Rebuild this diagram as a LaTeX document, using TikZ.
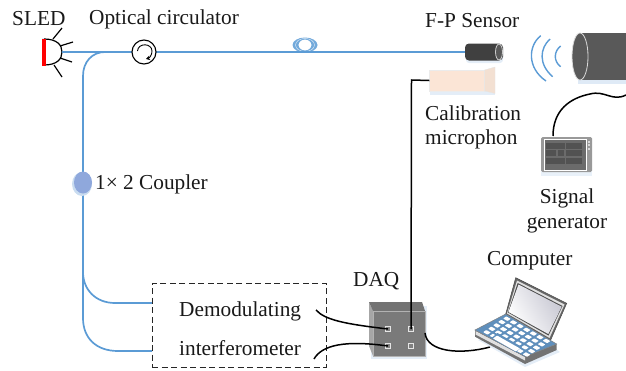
\documentclass[tikz,border=0pt]{standalone}
\usepackage{fontspec}
\setmainfont{Liberation Serif}
\usetikzlibrary{arrows.meta,shapes.geometric,calc}
\definecolor{fibre}{HTML}{5B9BD5}
\definecolor{shade}{HTML}{C9DCF0}
\definecolor{couplerblue}{HTML}{8FA8DC}
\definecolor{micbody}{HTML}{FBE5D6}
\definecolor{micflare}{HTML}{F3E0D2}
\definecolor{lapblue}{HTML}{5F8FBC}
\tikzset{
  lbl/.style={inner sep=0pt,font=\fontsize{21.3}{25}\selectfont,text=black!90,anchor=base west},
  lblc/.style={inner sep=0pt,font=\fontsize{21.3}{25}\selectfont,text=black!90,anchor=base},
  fibreline/.style={draw=fibre,line width=1.7pt},
  blackwire/.style={draw=black,line width=1.5pt},
  raydraw/.style={draw=black,line width=1.2pt},
  wave/.style={draw=fibre,line width=1.4pt},
  port/.style={draw=black!10,fill=black!50,line width=.9pt,minimum size=5pt,inner sep=0pt,rectangle},
  key/.style={fill=white,draw=none,rounded corners=.5pt},
}
\begin{document}
\begin{tikzpicture}[x=1pt,y=-1pt]
\useasboundingbox (0,0) rectangle (626,370);
% labels
\node[lbl] (tsled) at (12,25) {SLED};
\node[lbl] (tcirc) at (89,24) {Optical circulator};
\node[lbl] (tfp) at (425,27) {F-P Sensor};
\node[lbl] (tcal) at (425,120) {Calibration};
\node[lbl] (tmic) at (425,144) {microphon};
\node[lblc] (tsig) at (567,203) {Signal};
\node[lblc] (tgen) at (567,228) {generator};
\node[lbl] (tcoup) at (95,189) {1× 2 Coupler};
\node[lbl] (tdaq) at (353,286) {DAQ};
\node[lbl] (tcomp) at (487,265) {Computer};
\node[lbl] (tdem) at (179,316) {Demodulating};
\node[lbl] (tint) at (179,355) {interferometer};

% named points
\coordinate (ledout) at (62,52);
\coordinate (bend) at (105,52);
\coordinate (cbr1) at (83,272);
\coordinate (cbr2) at (83,318);
\coordinate (boxin1) at (152,303);
\coordinate (boxin2) at (152,351);
\coordinate (dem1) at (316,310);
\coordinate (dem2) at (314,359);
\coordinate (wirecorner) at (411.5,80);
\coordinate (daqout) at (425,333);
\coordinate (lapin) at (490,347);
\coordinate (sigtop) at (553,136);
\coordinate (spkwire) at (626,95);

% SLED
\path[fill=shade,opacity=.5] (42,38) rectangle (46,66);
\draw[raydraw,fill=white] (44,39) .. controls (57,39) and (62,45) .. (62,52) .. controls (62,59) and (57,65) .. (44,65);
\node[fill=red,inner sep=0pt,minimum width=4pt,minimum height=27pt] (led) at (43.5,52) {};
\draw[raydraw] (53,39) -- (62,28);
\draw[raydraw] (60,46) -- (73,42);
\draw[raydraw] (60,58) -- (72,62);
\draw[raydraw] (54,65) -- (62,77);

% fibres
\node[circle,inner sep=0pt,minimum size=24pt] (circ) at (144,52) {};
\node[inner sep=0pt,minimum width=37pt,minimum height=17pt] (sensor) at (483.5,52) {};
\draw[fibreline] (ledout) -- (circ.west);
\draw[fibreline] (circ.east) -- (sensor.west);
\draw[fibreline] (circ.west) -- (bend) .. controls (92,52) and (83,62) .. (83,76) -- (cbr2) .. controls (83,338) and (96,351) .. (118,351) -- (boxin2);
\draw[fibreline] (cbr1) .. controls (83,290) and (96,303) .. (115,303) -- (boxin1);

% circulator
\draw[black,line width=1.1pt,fill=white] (circ.center) circle[radius=12];
\draw[black,line width=.9pt,-{Stealth[length=4pt,width=4.5pt]}] (137.5,51) .. controls (138,42.5) and (152,43) .. (152,51) .. controls (152,55) and (149.5,58) .. (146,59);

% fibre coil
\path[fill=fibre,opacity=.85,even odd rule] (305,45) ellipse[x radius=12.5,y radius=7.5] (305,45) ellipse[x radius=6.5,y radius=5.5];
\draw[white,line width=.3pt] (305,45) ellipse[x radius=9.5,y radius=6.5];
\node[inner sep=0pt,minimum size=1pt] (coil) at (305,45) {};
\draw[fibreline] (290,52) -- (320,52);

% coupler
\path[fill=shade] (82,184) ellipse[x radius=10,y radius=12];
\node[ellipse,inner sep=0pt,minimum width=18pt,minimum height=22pt,fill=couplerblue] (coupler) at (83,182.5) {};

% dashed box
\node[draw=black!85,line width=.95pt,minimum width=174pt,minimum height=84pt,inner sep=0pt,
  dash pattern=on 6pt off 3.5pt] (dbox) at (239,325) {};

% DAQ
\path[fill=shade,opacity=.5] (371,306) rectangle (427,359);
\path[fill=black!35] (369,302) -- (373,311) -- (373,356) -- (369,346) -- cycle;
\path[fill=black!55] (369,302) -- (422,302) -- (425,311) -- (373,311) -- cycle;
\path[fill=black!52,draw=black!30,line width=.6pt] (373,311) rectangle (425,356);
\node[port] (p1) at (388,329) {};
\node[port] (p2) at (411,329) {};
\node[port] (p3) at (388,346) {};
\node[port] (p4) at (411,346) {};

% microphone
\path[fill=shade,opacity=.5] (430,73) rectangle (495,95);
\node[inner sep=0pt,minimum width=55pt,minimum height=21pt,fill=micbody,draw=black!8] (mic) at (457,80.5) {};
\path[fill=micflare,draw=black!10] (484.5,70) -- (495,67) -- (495,93.5) -- (484.5,91) -- cycle;
\draw[blackwire] (p2.center) -- (wirecorner) -- (mic.west);

% black cables
\draw[blackwire] (dem1) .. controls (325,320) and (345,324) .. (p1.center);
\draw[blackwire] (dem2) .. controls (322,345) and (345,340) .. (p3.center);
\draw[blackwire] (daqout) .. controls (427,352) and (460,355) .. (lapin);
\draw[blackwire] (spkwire) .. controls (612,102) and (605,90) .. (590,94) .. controls (570,98) and (553,110) .. (sigtop);

% sensor
\path[fill=shade,opacity=.5,rounded corners=3pt] (466,46) rectangle (503,63);
\path[fill=black!75,rounded corners=4pt] (465,43.5) rectangle (503,60.5);
\draw[black!20,line width=.8pt,fill=black!65] (499,52) ellipse[x radius=3.5,y radius=8];

% waves
\draw[wave] (540.7,35.7) .. controls (528,46) and (527,68) .. (546,81);
\draw[wave] (550,39) .. controls (540,48) and (538,64) .. (552.7,76.7);
\draw[wave] (560.7,46) .. controls (554,51) and (553,61) .. (560.7,66.7);

% speaker
\path[fill=shade,opacity=.6] (578,38) rectangle (626,84);
\path[fill=black!65] (580,33) -- (626,33) -- (626,80) -- (580,80) -- cycle;
\draw[black!15,line width=.8pt,fill=black!65] (580,56.5) ellipse[x radius=8,y radius=23.5];
\node[inner sep=0pt,minimum size=1pt] (spk) at (625,57) {};

% signal generator
\path[fill=shade,opacity=.4] (541,140) rectangle (592,176);
\node[inner sep=0pt,minimum width=51pt,minimum height=35pt,fill=black!40,rounded corners=1.5pt] (siggen) at (566.5,154.5) {};
\path[fill=black!58,draw=white,line width=.9pt] (544,139) rectangle (586,170.5);
\foreach \xa/\ya/\xb/\yb in {546/143/565/149,566/143/582/149,546/150/556/156,558/150/564/156,566/150/582/156,546/158/565/164,566/158/582/164}
  \path[fill=black!68] (\xa,\ya) rectangle (\xb,\yb);
\foreach \yy in {142,145,148.5} \path[fill=black!15] (587.5,\yy-1) rectangle (590,\yy+1);

% laptop
\path[fill=shade,opacity=.5] (478,340) -- (525,367) -- (560,352) -- (530,330) -- cycle;
\path[fill=black!60,draw=black!70,line width=.5pt] (515.7,277.7) -- (566.7,303.3) -- (550.7,340) -- (505.7,314) -- cycle;
\path[fill=black!12] (517,280.5) -- (564.5,304.5) -- (549.5,338) -- (507,313.5) -- cycle;
\path[fill=black!70] (517.7,283) -- (562.5,306) -- (548.5,335.5) -- (508,312.5) -- cycle;
\shade[left color=blue!20!black!22,right color=white,shading angle=-60] (518.5,284.5) -- (561.7,306.7) -- (548.3,334) -- (508.5,312) -- cycle;
\path[fill=black!55] (475,330) -- (475,336.7) -- (525,364) -- (556.7,350) -- (556.7,344) -- (525,356.7) -- cycle;
\path[fill=black!12] (475.5,331) -- (475.5,334.5) -- (525,360.5) -- (525,357) -- cycle;
\path[fill=lapblue,draw=black!50,line width=.5pt] (475,330) -- (505.7,314) -- (556.7,344) -- (525,356.7) -- cycle;
\node[inner sep=0pt,minimum size=1pt] (laptop) at (490,347) {};
\foreach \uu in {0,...,6}{
  \foreach \vv in {0,...,4}{
    \path[key] ($(505.7,314)+(\uu*6.6+1.2,\uu*3.7+1.8)+(\vv*-5.0-.6,\vv*3.4+.6)$) -- ++(4.4,2.5) -- ++(-3.2,2.1) -- ++(-4.4,-2.5) -- cycle;
  }
}
\path[fill=lapblue] (497.5,333) -- (522,347) -- (516,352) -- (491.5,338) -- cycle;
\path[key] (497,335.5) -- (520,348.5) -- (516,351.5) -- (493,338.5) -- cycle;
\end{tikzpicture}
\end{document}
